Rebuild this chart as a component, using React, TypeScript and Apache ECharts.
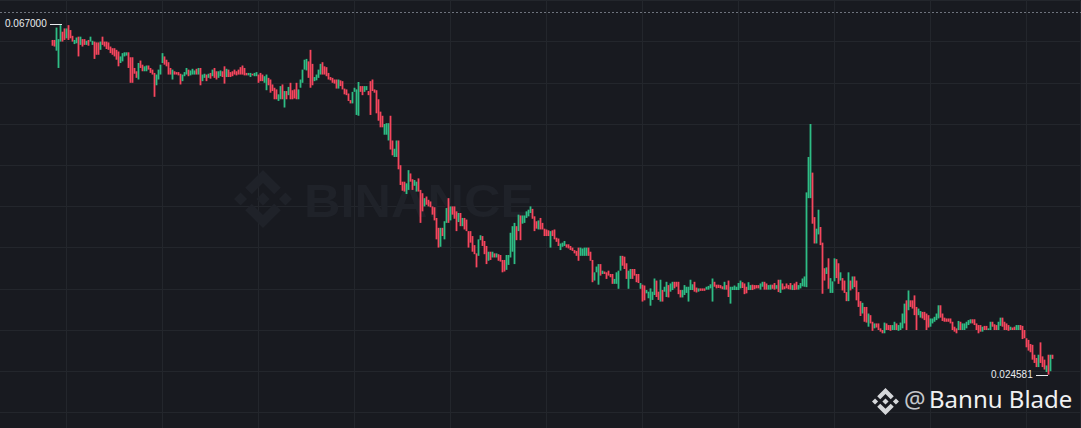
import React, { useEffect, useRef } from "react";
import * as echarts from "echarts";

// Prices are written in thousandths. Rows are [open, close] when the bar has no visible wick,
// otherwise [open, close, low, high].
const candlesA = [
  [65.2,64.5],[65.2,64.4],[64,65.2,63.9,66.7],[64,65.2,61.8,65.3],[65,67],[66.2,65],[66.4,65.2,65.2,66.6],[65.4,66.6],[66.9,65.3,65.2,67],[66.4,65.4],
  [65.7,65],[64.7,65.2],[64.8,65.5],[65.6,64.6,63.2,65.6],[64.6,65.6],[65.3,64.4],[65.3,64.6],[64.6,65.1],[65.2,64.5],[65,65.6],
  [64.6,65.1],[65,63.4,62.9,65],[64.9,63.4],[64.9,63.4],[64,65],[65.6,64.6],[65,64.4],[65,64.1],[64.9,64],[64.4,63.6],
  [64.2,63.4],[64.2,63.2],[64,62.8],[63.8,62],[62.4,63.2],[62.6,63.6],[63.2,63.7],[63.3,63.7],[63.7,61.8],[63.1,60],
  [63.1,60],[61.8,61.1],[61.4,60.6],[60.4,62.4],[62.7,61.8],[62.2,61.4],[61.4,62],[61.4,62.1],[62.1,61.6],[61.8,61.2],
];
const candlesB = [
  [61.6,61],[61.2,60.6,58.3,61.2],[59.7,61],[60.4,61.6],[61,62.2],[62.4,63.6],[63.2,62.2],[62.8,62],[62.5,61],[61.8,61],
  [60.4,61.6],[61.4,61],[61.3,61],[61.3,60.9],[61.1,59.8],[60.2,61],[60.8,61.3],[61,61.8],[61.6,60.8],[60.9,61.5],
  [61,61.7],[61,61.5],[61.7,61],[61,61.8],[61.8,59.7],[60.2,61],[60.6,61.1],[61,60.2],[60.6,61.1],[61.2,60.5],
  [60.8,61.6],[61.8,60.6],[61.4,60.4],[60.6,61.4],[60.8,61.5],[61.4,60.7],[61.4,60.7,59.9,62],[60.7,61.7],[61.6,60.7],[61.3,60.7],
  [61.4,60.8],[61.6,61],[61.4,60.9],[61.6,61],[61.9,61],[62.1,61],[61.8,60.9],[61.2,60.9],[60.9,61.2],[60.7,61.2],
];
const candlesC = [
  [61.1,60.9],[60.8,61.2],[60.8,61.3],[61,60],[61.2,60.2],[61,60.2],[60,60.8],[59.1,61],[60.6,59.7],[60.4,58.8],
  [59.8,59],[59.4,58],[59.2,58],[57.8,58.6],[58,59.6],[59.8,58],[58,59,57,59],[59,58],[58.5,59.5],[60,58],
  [59.1,58],[59.2,58.1],[60,58],[58,59.2],[59.4,60.4],[60,61.6],[61.6,62.8],[61.5,62.9],[62.6,60.6],[62,60,59.4,64],
  [62.3,59.7],[60.2,60.7],[60.3,61],[60.6,61.6],[61,62.3],[62.5,61],[62,61],[61.9,60.8],[61.2,60.4],[60.7,60.3],
  [60.6,60],[60.4,59.9],[60.4,59.3],[59.3,60.4],[60.3,59.6],[60.2,59.2],[59.3,58.6],[59.2,58.5],[58.7,57.8],[57.9,57.5],
];
const candlesD = [
  [57.5,58.9],[58.9,59.4],[56.1,59.2],[56,60.1],[59.6,58.9],[59.6,58.5],[58.9,59.6],[59.1,59.6],[59,58.5],[59.6,59,56.1,60.2],
  [60.4,59],[59.2,58.8],[59.1,57,56.3,59.1],[58,55.4],[56.5,54.6],[56,54.6],[53.7,55],[53.7,55.1],[53,55.1],[56,51.9],
  [53,51.2],[51,52],[51,53],[53,50,49.5,53],[50,47.6],[48,46.9],[48,46.8],[46.5,47.8],[47,49.4],[49,48],
  [48.3,47],[47.5,48.2],[46.8,48],[48.4,46.8],[47,45.5,43,47],[46.6,44.4],[45,46],[46.2,45.2],[45.8,45],[45.6,44.9],
  [45,44],[44.9,43.3],[43.6,41],[42.4,40],[40.1,42.4],[42.4,41.4],[41,43.2],[43,44.8],[45,43.8,43,46],[43.3,45],
];
const candlesE = [
  [45,44],[45,43.5],[44.4,42],[43.1,44.2],[44.2,42.6],[42.6,43.6],[43.6,42.2],[43.4,42],[42,40],[42,40.6],
  [41.4,39.5],[40.3,39.2],[39.3,37.6],[39,41],[40.9,41.5],[41.4,40.2],[40.8,39.2],[40.2,38],[38.4,39.5],[39.5,38.5],
  [38.8,39.5],[39.3,38.8],[38.8,39.3],[39.2,38.4],[39.1,38.3],[38.5,37],[38.5,37.1],[37.3,39.1],[37.9,39.1],[38.8,41.8],
  [39.5,42.6],[40.5,43,38,43],[42.6,40.9],[42,44],[43.9,40.9],[42.9,43.9],[43,43.9],[43.6,44.4],[43.8,44.6],[44.2,45],
  [44.7,43.5],[43.8,42],[43.2,42.3],[42.2,43.3],[43.6,42.2],[43,42.2],[42.3,41.4],[42.2,41.4],[42.1,41.4],[41.4,42,40,42],
];
const candlesF = [
  [42.1,41.4],[42.2,41],[41.2,40.7],[41.1,40.2],[39.7,40.5],[40.1,40.6],[40.2,40.8],[40.4,40],[40.4,39.9],[40.2,39.7],
  [40,39.6],[39.7,39.3],[39.6,39],[40,38.4],[39,40],[39,39.9],[39,40],[39,40],[40,39],[39.5,38.4],
  [38.5,36.5,35.8,38.5],[36,37],[37,37.7],[37,37.8,35.5,38],[38,36.6],[36.8,37.2],[37.1,36.8],[37,36.2],[37.2,36.6],[36.8,36.4],
  [36.8,35.6],[35.6,36.2],[35.6,37],[36,37.2,35,37.2],[37.2,39],[39,37.8],[38.9,37.4],[38.1,36.2],[35.7,37.2,35,37.2],[36.2,37.4],
  [37.4,36.2],[37.4,36.6],[36.8,35.8],[36.8,35.7],[35,35.7],[35.5,33.45],[35.4,33.6],[34.45,34.85],[33.85,34.65],[34.2,35.05,32.95,35.05],
];
const candlesG = [
  [33.65,34.65],[34.25,36.25],[36,34],[34.65,33.65],[33.45,36.1],[34.85,33.45],[34.65,35.25],[34,35.85],[35.45,33.95],[34.65,35.65],
  [34.85,35.85],[35.85,35.05],[35.85,35.25],[35.85,34.35],[34.85,33.95],[33.95,34.85],[34.25,35.45],[34.5,35.25],[33.45,35.25],[34.85,36.1],
  [34.85,35.55],[35.85,34.65],[35.15,34.55],[34.65,35.05],[35.05,34.75],[35.05,34.75],[35.05,34.75],[34.9,35.25],[34.9,35.35],[35.05,35.55],
  [35,36,33.45,36.25],[35.85,35.25],[35.5,35.05],[35.5,35.1],[35.45,35.05],[35.3,34.95],[34.9,35.85],[35.45,34.9],[36,35,34,36],[34.85,35.25,33.2,35.25],
  [34.85,35.25],[34.85,35.4],[34.85,35.25],[34.85,35.7],[35.05,36],[35.8,35.1],[35.65,34.35],[35.25,34.45],[34.85,35.8],[34.85,35.45],
];
const candlesH = [
  [35.5,34.85],[35.45,34.95],[35.45,35.05],[35.45,35.05],[34.9,35.65],[35.25,35.85],[35.85,34.9],[35.65,34.9],[34.9,35.45],[34.9,35.5],
  [35.5,35],[35.7,34.9],[35,35.45],[36.1,34.6],[34.5,36.1],[35.65,34.9],[35.3,34.95],[35.65,35.05],[35.45,34.95],[35.7,34.9],
  [34.85,35.45],[35.65,34.85],[35.85,34.9],[34.9,35.45],[35.05,35.7],[35.3,36.25],[35.25,36.5],[35.2,46.7],[46,51],[46,55],
  [49.1,42.9],[43.7,40.5],[40.5,42.3],[41.6,44.6],[42.5,40.3],[40.6,37,34.4,40.6],[37.5,36],[36.8,37.6],[38.7,35],[34.5,36.3],
  [34.5,35.9],[35.9,38.7],[38.6,36.3],[38.1,35.6],[36,37],[36.3,34.8],[36,34.5],[34.6,33.5],[33.5,37],[36,34.8],
];
const candlesI = [
  [35,36.5],[36.5,35.2],[36,33.6],[34.6,32.8],[33.5,31.7],[32,33.3],[32.8,31],[32.8,30.9],[30.4,32],[31.8,30.8],
  [31,29.9],[30.2,30.8],[30.8,30.3],[30.8,30],[30.2,29.8],[30,29.6],[29.6,30.9],[30.8,30],[30.6,30],[30.6,29.9],
  [30,30.6],[30,31],[30.8,30],[29.9,30.6],[30,30.9],[30.2,32],[30.8,33.2],[33.6,32.6,30,33.6],[32.4,34.8],[33.6,32.8],
  [33.6,32.6],[34.2,31.8],[32.8,30],[31.8,32.6],[31.5,32.3],[32.2,31.4],[32.2,31.2],[32,30],[31.8,30.3],[30.4,31.4],
  [30.8,31.4],[31,31.6],[31.2,32],[31.4,33],[33,31.5],[32,31.1],[31.5,31],[31.4,31],[31.4,31],[31.4,30.8],
];
const candlesJ = [
  [31,30],[30.4,29.8],[30.2,29.6],[30,31.1],[31,30],[30,30.8],[30,30.8],[30.2,31],[30.6,31.2],[30.8,31.3],
  [31.3,30.8],[31.3,30.6],[30.8,30],[30.6,29.6],[30.6,29.8],[29.8,30.4],[30.5,30],[30.5,30],[30,30.2],[30,31],
  [31,30.4],[30.7,30],[30.6,30],[30,31],[30.5,31.5],[31.5,30.4],[31,30],[30.8,30],[30.6,29.9],[30,30.4],
  [30.3,30],[30.4,30],[30,30.6],[30,30.6],[30.6,30],[30.5,28.9],[30,29],[29,27.9],[28.8,27.5],[28.3,27.3],
  [28.2,26.4],[27,26],[26.6,25.5],[25.5,27],[27,26,26,28.5],[26.8,25.5],[26.4,25.2],[24.9,25.7],[25.6,24.581,24.581,27],[25,27],
  [27,26.5],
];

const maxLabel = "0.067000";
const minLabel = "0.024581";
const watermarkText = "BINANCE";
const authorAt = "@";
const authorName = "Bannu Blade";

const LOGO =
  "M38.73 53.2L63.3 28.63l24.59 24.59 14.3-14.3L63.3 0 24.43 38.9l14.3 14.3zM0 63.31l14.3-14.3 14.3 14.3-14.3 14.3L0 63.31zm38.73 10.11L63.3 98l24.59-24.59 14.31 14.29-.01.01L63.3 126.61 24.43 87.74l-.02-.02 14.32-14.3zm59.28-10.11l14.3-14.3 14.3 14.3-14.3 14.3-14.3-14.3zM77.83 63.3L63.3 48.77 52.54 59.52l-1.24 1.24-2.55 2.55-.02.02.02.02L63.3 77.83 77.83 63.3z";

const BAND_COUNT = 540;
const LEAD_BANDS = 26;
const GRID_EVERY = 48;
const GRID_OFFSET = 33;

export default function App() {
  const ref = useRef<HTMLDivElement>(null);
  useEffect(() => {
    document.body.style.margin = "0";
    document.body.style.background = "#181A20";
    echarts.graphic.registerShape("binanceLogo", echarts.graphic.extendPath(LOGO, {}) as any);
    const chart = echarts.init(ref.current!, undefined, { renderer: "svg" });
    const rows = [
      ...candlesA, ...candlesB, ...candlesC, ...candlesD, ...candlesE,
      ...candlesF, ...candlesG, ...candlesH, ...candlesI, ...candlesJ,
    ];
    const data = rows.map((r, i) => {
      const [o, c] = r;
      const l = r.length === 4 ? r[2] : Math.min(o, c);
      const h = r.length === 4 ? r[3] : Math.max(o, c);
      return [i + LEAD_BANDS, o / 1000, c / 1000, l / 1000, h / 1000];
    });
    const categories = Array.from({ length: BAND_COUNT }, (_, i) => String(i));
    const gridColor = "#23262C";
    chart.setOption({
      animation: false,
      backgroundColor: "#181A20",
      grid: { left: 0, top: 0.4, width: 1080, height: 453.2, containLabel: false },
      xAxis: {
        type: "category",
        data: categories,
        boundaryGap: true,
        axisLabel: { show: false },
        axisLine: { show: false },
        axisTick: { show: false },
        splitLine: {
          show: true,
          interval: (i: number) => (i - GRID_OFFSET) % GRID_EVERY === 0,
          lineStyle: { color: gridColor, width: 1 },
        },
      },
      yAxis: {
        type: "value",
        min: 0.015,
        max: 0.07,
        interval: 0.005,
        axisLabel: { show: false },
        axisLine: { show: false },
        axisTick: { show: false },
        splitLine: { show: true, lineStyle: { color: gridColor, width: 1 } },
      },
      series: [
        {
          type: "candlestick",
          data,
          encode: { x: 0, y: [1, 2, 3, 4] },
          barWidth: 1,
          z: 3,
          itemStyle: {
            color: "#2EBD85",
            color0: "#F6465D",
            borderColor: "#2EBD85",
            borderColor0: "#F6465D",
            borderWidth: 1.8,
          },
        },
      ],
      graphic: [
        { type: "binanceLogo", x: 234, y: 170, scaleX: 0.458, scaleY: 0.458, z: 1, style: { fill: "#1F2229" } },
        {
          type: "text", x: 304, y: 177, scaleX: 1.075, z: 1,
          style: { text: watermarkText, fill: "#1F2229", font: "bold 47px 'Liberation Sans'" },
        },
        {
          type: "line", z: 1,
          shape: { x1: 0, y1: 12.5, x2: 1081, y2: 12.5 },
          style: { stroke: "#6E737D", lineWidth: 1, lineDash: [2, 2] },
        },
        {
          type: "text", x: 5, y: 18, z: 5,
          style: { text: maxLabel, fill: "#EAECEF", font: "10px 'Liberation Sans'" },
        },
        {
          type: "line", z: 5,
          shape: { x1: 50, y1: 24.5, x2: 62, y2: 24.5 },
          style: { stroke: "#EAECEF", lineWidth: 1 },
        },
        {
          type: "text", x: 991, y: 369, z: 5,
          style: { text: minLabel, fill: "#EAECEF", font: "10px 'Liberation Sans'" },
        },
        {
          type: "line", z: 5,
          shape: { x1: 1036, y1: 375.5, x2: 1048, y2: 375.5 },
          style: { stroke: "#EAECEF", lineWidth: 1 },
        },
        { type: "binanceLogo", x: 872, y: 388, scaleX: 0.213, scaleY: 0.213, z: 5, style: { fill: "#D5D7DA" } },
        {
          type: "text", x: 904, y: 386, z: 5,
          style: { text: authorAt, fill: "#C4C7CB", font: "24px 'Noto Sans'" },
        },
        {
          type: "text", x: 929, y: 386, z: 5,
          style: { text: authorName, fill: "#F0F1F2", font: "24px 'Noto Sans'" },
        },
      ],
    });
    return () => chart.dispose();
  }, []);
  return (
    <div style={{ position: "absolute", left: 0, top: 0, width: 1081, height: 428, overflow: "hidden" }}>
      <div ref={ref} style={{ width: 1081, height: 456 }} />
    </div>
  );
}
